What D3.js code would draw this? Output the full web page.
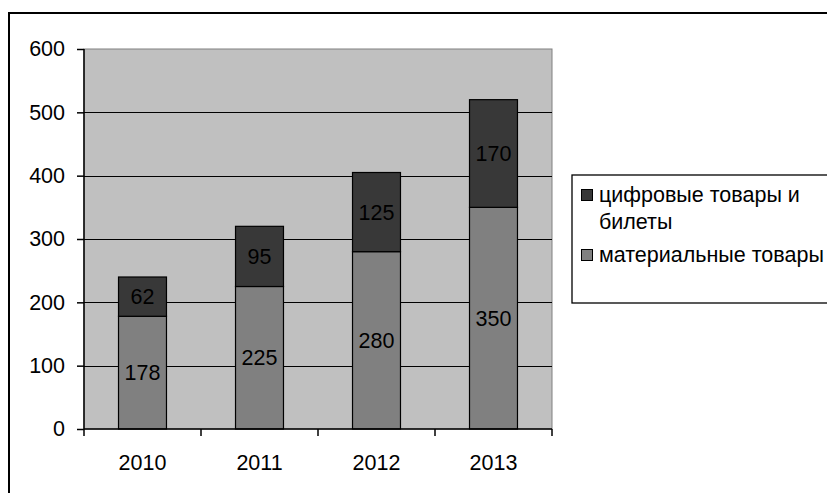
<!DOCTYPE html>
<html>
<head>
<meta charset="utf-8">
<script src="https://cdn.jsdelivr.net/npm/d3@7"></script>
<style>
  body { margin: 0; background: #fff; }
  text { font-family: "Liberation Sans", Arial, sans-serif; fill: #000; }
</style>
</head>
<body>
<div id="chart"></div>
<script>
var years = ["2010", "2011", "2012", "2013"];
var material = [178, 225, 280, 350];
var digital = [62, 95, 125, 170];
var seriesNames = ["цифровые товары и билеты", "материальные товары"];
var yTicks = [0, 100, 200, 300, 400, 500, 600];

var width = 827;
var height = 493;
var fontSize = 21.5;

var plot = { left: 84, top: 49, right: 552, bottom: 429 };

var svg = d3
  .select("#chart")
  .append("svg")
  .attr("width", width)
  .attr("height", height);

// outer chart border (right/bottom cut off like the picture)
svg
  .append("rect")
  .attr("x", 9)
  .attr("y", 13)
  .attr("width", 900)
  .attr("height", 600)
  .attr("fill", "#fff")
  .attr("stroke", "#000")
  .attr("stroke-width", 2);

var x = d3
  .scaleBand()
  .domain(years)
  .range([plot.left, plot.right])
  .paddingInner(0.59)
  .paddingOuter(0.295);

var y = d3.scaleLinear().domain([0, 600]).range([plot.bottom, plot.top]);

// plot area
svg
  .append("rect")
  .attr("x", plot.left)
  .attr("y", plot.top)
  .attr("width", plot.right - plot.left)
  .attr("height", plot.bottom - plot.top)
  .attr("fill", "#c0c0c0")
  .attr("stroke", "#808080")
  .attr("stroke-width", 1);

// gridlines
svg
  .append("g")
  .selectAll("line")
  .data(yTicks.filter((d) => d > 0 && d < 600))
  .join("line")
  .attr("x1", plot.left)
  .attr("x2", plot.right)
  .attr("y1", (d) => Math.round(y(d)) + 0.5)
  .attr("y2", (d) => Math.round(y(d)) + 0.5)
  .attr("stroke", "#000")
  .attr("stroke-width", 1.2);

// stacked bars
var table = years.map(function (yr, i) {
  return { year: yr, material: material[i], digital: digital[i] };
});
var stack = d3.stack().keys(["material", "digital"])(table);
var color = d3
  .scaleOrdinal()
  .domain(["material", "digital"])
  .range(["#808080", "#383838"]);

var layers = svg
  .append("g")
  .selectAll("g")
  .data(stack)
  .join("g")
  .attr("fill", (d) => color(d.key));

layers
  .selectAll("rect")
  .data((d) => d)
  .join("rect")
  .attr("x", (d) => x(d.data.year))
  .attr("y", (d) => y(d[1]))
  .attr("width", x.bandwidth())
  .attr("height", (d) => y(d[0]) - y(d[1]))
  .attr("stroke", "#000")
  .attr("stroke-width", 1.2);

layers
  .selectAll("text")
  .data((d) => d)
  .join("text")
  .attr("x", (d) => x(d.data.year) + x.bandwidth() / 2)
  .attr("y", (d) => (y(d[0]) + y(d[1])) / 2)
  .attr("dy", "0.36em")
  .attr("text-anchor", "middle")
  .style("font-size", fontSize + "px")
  .text((d) => d[1] - d[0]);

// y axis
var yAxis = d3
  .axisLeft(y)
  .tickValues(yTicks)
  .tickSize(7)
  .tickPadding(12);
var gy = svg
  .append("g")
  .attr("transform", "translate(" + plot.left + ",0)")
  .call(yAxis);
gy.select(".domain").attr("stroke", "#000").attr("stroke-width", 1.5).attr("d", "M0," + plot.top + "V" + plot.bottom);
gy.selectAll(".tick line").attr("stroke", "#000").attr("stroke-width", 1.5);
gy.selectAll(".tick text")
  .style("font-size", fontSize + "px")
  .style("font-family", "'Liberation Sans', Arial, sans-serif")
  .attr("fill", "#000");

// x axis: ticks between categories
var gx = svg
  .append("g")
  .attr("transform", "translate(0," + plot.bottom + ")");
gx.append("line")
  .attr("x1", plot.left)
  .attr("x2", plot.right)
  .attr("stroke", "#000")
  .attr("stroke-width", 1.5);
var step = x.step();
gx.selectAll(".xt")
  .data(d3.range(years.length + 1))
  .join("line")
  .attr("class", "xt")
  .attr("x1", (i) => plot.left + i * step)
  .attr("x2", (i) => plot.left + i * step)
  .attr("y1", 0)
  .attr("y2", 7)
  .attr("stroke", "#000")
  .attr("stroke-width", 1.5);
gx.selectAll("text")
  .data(years)
  .join("text")
  .attr("x", (d) => x(d) + x.bandwidth() / 2)
  .attr("y", 33)
  .attr("dy", "0.36em")
  .attr("text-anchor", "middle")
  .style("font-size", fontSize + "px")
  .text((d) => d);

// legend
var legend = svg.append("g");
legend
  .append("rect")
  .attr("x", 572)
  .attr("y", 175)
  .attr("width", 300)
  .attr("height", 128)
  .attr("fill", "#fff")
  .attr("stroke", "#000")
  .attr("stroke-width", 1.3);

var legendItems = [
  { key: "digital", lines: ["цифровые товары и", "билеты"], y: 201.5 },
  { key: "material", lines: [seriesNames[1]], y: 261.5 }
];

var li = legend
  .selectAll(".item")
  .data(legendItems)
  .join("g")
  .attr("class", "item");

li.append("rect")
  .attr("x", 581.5)
  .attr("y", (d) => d.y - 12)
  .attr("width", 11)
  .attr("height", 11)
  .attr("fill", (d) => color(d.key))
  .attr("stroke", "#000")
  .attr("stroke-width", 1);

li.append("text")
  .attr("x", 599)
  .attr("y", (d) => d.y)
  .style("font-size", fontSize + "px")
  .selectAll("tspan")
  .data((d) => d.lines)
  .join("tspan")
  .attr("x", 599)
  .attr("dy", (d, i) => (i === 0 ? 0 : 27.7))
  .text((d) => d);
</script>
</body>
</html>
